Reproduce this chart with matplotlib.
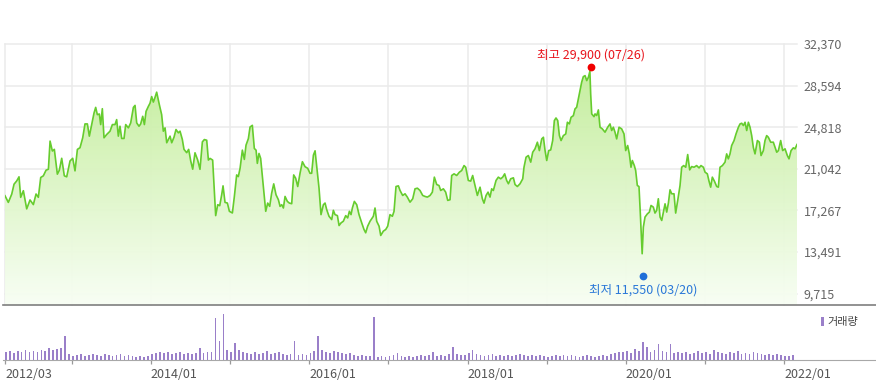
import matplotlib
matplotlib.use('Agg')
import matplotlib.pyplot as plt
import numpy as np
from matplotlib.colors import LinearSegmentedColormap
from matplotlib.lines import Line2D
from matplotlib.patches import Rectangle
from matplotlib.transforms import offset_copy

plt.rcParams['font.family'] = ['Noto Sans CJK KR', 'DejaVu Sans']

# ── Price (weekly close), x = decimal year ──────────────────────
price_years = [
    2012.160, 2012.202, 2012.245, 2012.274, 2012.308, 2012.337, 2012.358, 2012.392, 2012.434, 2012.476,
    2012.518, 2012.552, 2012.581, 2012.611, 2012.644, 2012.678, 2012.708, 2012.729, 2012.758, 2012.783,
    2012.821, 2012.846, 2012.876, 2012.909, 2012.939, 2012.981, 2013.015, 2013.044, 2013.074, 2013.107,
    2013.141, 2013.170, 2013.200, 2013.225, 2013.255, 2013.284, 2013.305, 2013.326, 2013.351, 2013.368,
    2013.389, 2013.410, 2013.444, 2013.486, 2013.516, 2013.549, 2013.570, 2013.591, 2013.612, 2013.633,
    2013.663, 2013.684, 2013.718, 2013.747, 2013.781, 2013.802, 2013.823, 2013.852, 2013.873, 2013.899,
    2013.920, 2013.941, 2013.970, 2013.991, 2014.012, 2014.033, 2014.054, 2014.075, 2014.109, 2014.138,
    2014.159, 2014.181, 2014.202, 2014.223, 2014.244, 2014.265, 2014.294, 2014.319, 2014.349, 2014.370,
    2014.399, 2014.420, 2014.454, 2014.479, 2014.505, 2014.530,
    2014.559, 2014.593, 2014.622, 2014.652, 2014.677, 2014.707, 2014.728, 2014.749, 2014.782, 2014.803,
    2014.820, 2014.846, 2014.871, 2014.896, 2014.913, 2014.938, 2014.968, 2014.993, 2015.031, 2015.056,
    2015.085, 2015.106, 2015.128, 2015.157, 2015.182, 2015.203, 2015.233, 2015.254, 2015.283, 2015.308,
    2015.330, 2015.346, 2015.367, 2015.388, 2015.422, 2015.452, 2015.477, 2015.502, 2015.527, 2015.553,
    2015.582, 2015.612, 2015.633, 2015.654, 2015.675, 2015.696, 2015.725, 2015.750, 2015.780, 2015.805,
    2015.830, 2015.856, 2015.885, 2015.915, 2015.948, 2015.982, 2016.011, 2016.032, 2016.054, 2016.075,
    2016.096, 2016.125, 2016.150, 2016.180, 2016.201, 2016.222, 2016.251, 2016.285, 2016.306, 2016.327,
    2016.357, 2016.378, 2016.403, 2016.432, 2016.462, 2016.487, 2016.508, 2016.529, 2016.546, 2016.571,
    2016.601, 2016.630, 2016.664, 2016.693, 2016.714, 2016.739, 2016.769, 2016.811, 2016.832, 2016.853,
    2016.883, 2016.904, 2016.937, 2016.967, 2016.992, 2017.021, 2017.051, 2017.072, 2017.097, 2017.127,
    2017.148, 2017.181, 2017.211, 2017.240, 2017.274, 2017.308, 2017.337, 2017.367, 2017.400, 2017.434,
    2017.463, 2017.493, 2017.527, 2017.556, 2017.581, 2017.611, 2017.640, 2017.661, 2017.695, 2017.724,
    2017.750, 2017.779, 2017.800, 2017.830, 2017.863, 2017.897, 2017.926, 2017.956, 2017.977, 2018.010,
    2018.040, 2018.065, 2018.095, 2018.124, 2018.158, 2018.187, 2018.208, 2018.234, 2018.259, 2018.284,
    2018.305, 2018.326, 2018.360, 2018.389, 2018.419, 2018.444, 2018.469, 2018.494, 2018.516, 2018.545,
    2018.579, 2018.600, 2018.629, 2018.663, 2018.697, 2018.713, 2018.739, 2018.768, 2018.798, 2018.823,
    2018.852, 2018.882, 2018.907, 2018.937, 2018.958, 2018.979, 2019.000, 2019.025, 2019.050, 2019.075,
    2019.096, 2019.117, 2019.139, 2019.160, 2019.181, 2019.210, 2019.240, 2019.261, 2019.286, 2019.307,
    2019.336, 2019.357, 2019.378, 2019.412, 2019.441, 2019.462, 2019.484, 2019.505, 2019.526, 2019.545,
    2019.555, 2019.568, 2019.597,
    2019.610, 2019.631, 2019.652, 2019.673, 2019.702, 2019.736, 2019.770, 2019.799, 2019.820, 2019.841,
    2019.862, 2019.883, 2019.913, 2019.946, 2019.976, 2019.997, 2020.022, 2020.043, 2020.064, 2020.081,
    2020.106, 2020.123, 2020.144, 2020.165, 2020.182, 2020.205, 2020.220, 2020.241, 2020.271, 2020.296,
    2020.317, 2020.346, 2020.367, 2020.388, 2020.409, 2020.431, 2020.452, 2020.473, 2020.494, 2020.515,
    2020.536, 2020.557, 2020.578, 2020.607, 2020.628, 2020.654, 2020.683, 2020.704, 2020.729, 2020.755,
    2020.780, 2020.805, 2020.830, 2020.860, 2020.893, 2020.923, 2020.948, 2020.978, 2020.999, 2021.028,
    2021.049, 2021.070, 2021.091, 2021.117, 2021.146, 2021.167, 2021.188, 2021.218, 2021.251, 2021.272,
    2021.293, 2021.314, 2021.335, 2021.365, 2021.390, 2021.420, 2021.441, 2021.462, 2021.483, 2021.504,
    2021.525, 2021.546, 2021.567, 2021.588, 2021.609, 2021.630, 2021.660, 2021.685, 2021.706, 2021.735,
    2021.756, 2021.777, 2021.798, 2021.828, 2021.861, 2021.882, 2021.904, 2021.925, 2021.954, 2021.979,
    2022.009, 2022.038, 2022.059, 2022.085, 2022.114, 2022.135, 2022.160,
]
prices = [
    18600, 18000, 18750, 19650, 19950, 20320, 18460, 19060, 17410, 18220,
    17800, 18760, 18460, 20260, 20410, 20920, 21010, 23560, 22660, 22810,
    20560, 20920, 22000, 20410, 20320, 21760, 22000, 20860, 22810, 22960,
    23860, 25120, 25120, 24010, 25060, 26110, 26620, 25960, 26020, 25060,
    26500, 23860, 24160, 24460, 25060, 25060, 25510, 24010, 24910, 23800,
    23800, 25060, 24760, 25210, 26620, 26800, 25210, 24910, 25120, 25810,
    25060, 26260, 26710, 27000, 27600, 27100, 27520, 28000, 26860, 25960,
    24460, 24760, 23410, 23710, 24010, 23410, 23920, 24610, 24310, 24460,
    23710, 22810, 22510, 22810, 21760, 21010,
    22500, 21840, 21000, 23490, 23700, 23640, 21840, 21990, 21840, 19140,
    16800, 17790, 17700, 18690, 19500, 18000, 17940, 17190, 17040, 18540,
    20490, 20340, 21090, 22740, 21900, 23190, 23790, 24840, 24990, 22890,
    22740, 21540, 22440, 21990, 19440, 17190, 17940, 17640, 18840, 19680,
    18690, 18240, 17640, 17790, 17490, 18540, 18090, 17940, 17880, 20490,
    20190, 19440, 20640, 21690, 21240, 21090, 20640, 20640, 22290, 22680,
    21240, 19290, 16890, 17790, 17940, 17340, 16740, 16440, 17280, 16890,
    16800, 15900, 16140, 16290, 16800, 16590, 17190, 16890, 17490, 18090,
    17790, 16890, 16140, 15540, 15240, 15840, 16290, 16740, 17490, 16290,
    15840, 15000, 15390, 15540, 15840, 16890, 16740, 17190, 19440, 19500,
    19080, 18630, 18780, 18480, 18020, 18330, 19230, 19290, 19080, 18630,
    18540, 18480, 18630, 18930, 20290, 19620, 19530, 19080, 19230, 18930,
    18180, 18240, 20440, 20590, 20440, 20740, 20890, 21340, 21190, 19990,
    19930, 20440, 19530, 18630, 19380, 18330, 17930, 18630, 18930, 18480,
    19230, 19080, 19990, 20290, 20140, 20290, 20590, 19990, 19690, 20140,
    20230, 19620, 19440, 19690, 20140, 21190, 22100, 22250, 21650, 22550,
    22860, 23460, 22700, 23760, 23910, 22700, 21800, 22700, 22760, 23610,
    25420, 25660, 25420, 24060, 23610, 24060, 24210, 25270, 25120, 25720,
    25870, 26480, 26630, 27840, 28900, 29410, 29500, 29050, 29350, 29900,
    27840, 26030, 25780,
    26030, 25880, 26390, 24820, 24670, 24370, 24820, 25120, 24520, 24820,
    24370, 23760, 24820, 24670, 24210, 22700, 23160, 22400, 21190, 21800,
    21340, 20890, 19530, 19440, 16960, 13340, 15760, 16670, 16960, 17120,
    17720, 17570, 17030, 17270, 18330, 16670, 16360, 17120, 17870, 17120,
    17930, 19140, 18780, 18780, 17030, 18180, 19530, 21190, 21340, 21190,
    22340, 20950, 21250, 21190, 21340, 21130, 21340, 21190, 20740, 20590,
    19930, 19380, 20290, 19930, 19440, 19380, 21190, 21340, 21650, 22400,
    21950, 22400, 23160, 23610, 24210, 24820, 25120, 25180, 24970, 25270,
    24520, 25270, 24820, 24060, 22980, 22400, 23610, 23460, 22250, 22700,
    23610, 24060, 23910, 23460, 23460, 23010, 22550, 22700, 23610, 22700,
    22860, 22250, 21950, 22700, 22950, 22860, 23250,
]

# ── Volume (relative units) ─────────────────────────────────────
volume = [
    8, 9, 7, 9, 8, 10, 8, 9, 8, 10, 9, 12, 10, 11, 12, 24,
    6, 4, 5, 6, 4, 5, 6, 5, 4, 6, 5, 4, 5, 6, 4, 5, 4, 3, 4, 3, 4,
    6, 7, 8, 7, 8, 6, 7, 8, 6, 7, 6, 7, 12, 7, 8,
    8, 42, 19, 46, 10, 8, 17, 10, 8,
    7, 6, 8, 6, 7, 9, 6, 7, 8, 6, 5, 6,
    19,
    5, 6, 5, 7, 9,
    24,
    10, 8, 7, 9, 8,
    7, 6, 7, 5, 4, 5, 4,
    4, 43, 3, 4, 3, 4, 5, 7,
    4, 3, 4, 3, 4, 5, 4, 5, 8, 4, 5, 4, 6, 13, 6, 5, 5, 7, 10, 6, 5, 4, 5, 6, 4, 5,
    4, 5, 4, 5, 6, 5, 4, 5, 4, 5, 4, 3, 4, 5, 4, 5, 4, 5, 4, 3, 4, 5, 4, 3, 4, 5, 4, 6, 7, 8,
    8, 9, 7, 11, 9, 18, 13, 8, 10, 16, 9, 8, 16, 7, 8,
    7, 8, 6, 7, 9, 7, 8, 6, 10, 8, 7, 6, 8, 7, 9, 6, 7, 6, 8, 7, 6, 5, 6, 5, 6, 5,
    4, 4, 5,
]
vol_years = np.linspace(2012.17, 2022.11, len(volume))

# ── Axis labels ─────────────────────────────────────────────────
y_ticks = [9715, 13491, 17267, 21042, 24818, 28594, 32370]
x_grid_years = [2012.16, 2013, 2014, 2015, 2016, 2017, 2018, 2019, 2020, 2021, 2022]
x_tick_labels = ['2012/03', '', '2014/01', '', '2016/01', '', '2018/01', '', '2020/01', '', '2022/01']

HIGH_YEAR, HIGH_PRICE = 2019.564, 29900
LOW_YEAR, LOW_PRICE = 2020.216, 11550
high_label = '최고 29,900 (07/26)'
low_label = '최저 11,550 (03/20)'

X_MIN, X_MAX = 2012.16, 2022.16
Y_MIN, Y_MAX = 8690, 32370

# ── Figure ──────────────────────────────────────────────────────
W, H = 876, 391
fig = plt.figure(figsize=(W / 100, H / 100), dpi=100)
ax = fig.add_axes([5 / W, 1 - 305 / H, 792 / W, 261 / H])
axv = fig.add_axes([5 / W, 1 - 360 / H, 792 / W, 53 / H])

x = np.array(price_years)
y = np.array(prices)

ax.set_xlim(X_MIN, X_MAX)
ax.set_ylim(Y_MIN, Y_MAX)
for s in ax.spines.values():
    s.set_visible(False)

# grid
for t in y_ticks:
    ax.axhline(t, color='#ebebeb', lw=1.1, zorder=0, clip_on=False)
for t in x_grid_years:
    ax.axvline(t, color='#ebebeb', lw=1.1, zorder=0, clip_on=False)

# gradient area under the line
poly = ax.fill_between(x, y, Y_MIN, color='none', lw=0)
cmap = LinearSegmentedColormap.from_list('g', ['#f8fef4', '#bdec90'])
grad = np.linspace(0, 1, 256).reshape(-1, 1)
im = ax.imshow(grad, extent=[X_MIN, X_MAX, Y_MIN, Y_MAX], origin='lower',
               aspect='auto', cmap=cmap, alpha=0.95, zorder=1)
im.set_clip_path(poly.get_paths()[0], transform=ax.transData)

ax.plot(x, y, color='#66cc2e', lw=1.2, zorder=3, solid_joinstyle='round')

# high / low markers
up = offset_copy(ax.transData, fig=fig, x=0, y=4, units='dots')
dn = offset_copy(ax.transData, fig=fig, x=0, y=-3, units='dots')
ax.plot([HIGH_YEAR], [HIGH_PRICE], 'o', color='#f00000', ms=5.6, mec='none',
        transform=up, zorder=5, clip_on=False)
ax.annotate(high_label, xy=(HIGH_YEAR, HIGH_PRICE), xytext=(0, 16.5),
            textcoords='offset pixels', ha='center', va='center',
            fontsize=9, color='#e8141c', zorder=5)
ax.plot([LOW_YEAR], [LOW_PRICE], 'o', color='#1f6fd8', ms=5.6, mec='none',
        transform=dn, zorder=5, clip_on=False)
ax.annotate(low_label, xy=(LOW_YEAR, LOW_PRICE), xytext=(0, -16.5),
            textcoords='offset pixels', ha='center', va='center',
            fontsize=9, color='#2a78d8', zorder=5)

# y labels on the right
ax.set_yticks(y_ticks)
ax.set_yticklabels([f'{v:,}' for v in y_ticks])
ax.yaxis.tick_right()
ax.tick_params(axis='y', length=0, pad=5, labelsize=9, labelcolor='#666666')
ax.set_xticks([])

# ── Volume panel ────────────────────────────────────────────────
axv.bar(vol_years, volume, width=0.022, color='#9a7fc9', lw=0)
axv.set_xlim(X_MIN, X_MAX)
axv.set_ylim(0, 53)
for s in axv.spines.values():
    s.set_visible(False)
axv.set_yticks([])
axv.set_xticks(x_grid_years)
axv.set_xticklabels(x_tick_labels)
axv.tick_params(axis='x', length=3, width=0.9, color='#999999', pad=3,
                labelsize=9, labelcolor='#555555')
for lbl in axv.get_xticklabels():
    lbl.set_ha('left')

# separators
fig.add_artist(Line2D([3 / W, 1], [1 - 305 / H] * 2, transform=fig.transFigure,
                      color='#7f7f7f', lw=1.2))
fig.add_artist(Line2D([3 / W, 1], [1 - 360 / H] * 2, transform=fig.transFigure,
                      color='#a8a8a8', lw=0.8))

# legend
fig.add_artist(Rectangle((821 / W, 1 - 326 / H), 3 / W, 9 / H, transform=fig.transFigure,
                         color='#9a7fc9', lw=0))
fig.text(827 / W, 1 - 321.5 / H, '거래량', fontsize=8, color='#444444', va='center')

fig.savefig('out.png', dpi=100)
